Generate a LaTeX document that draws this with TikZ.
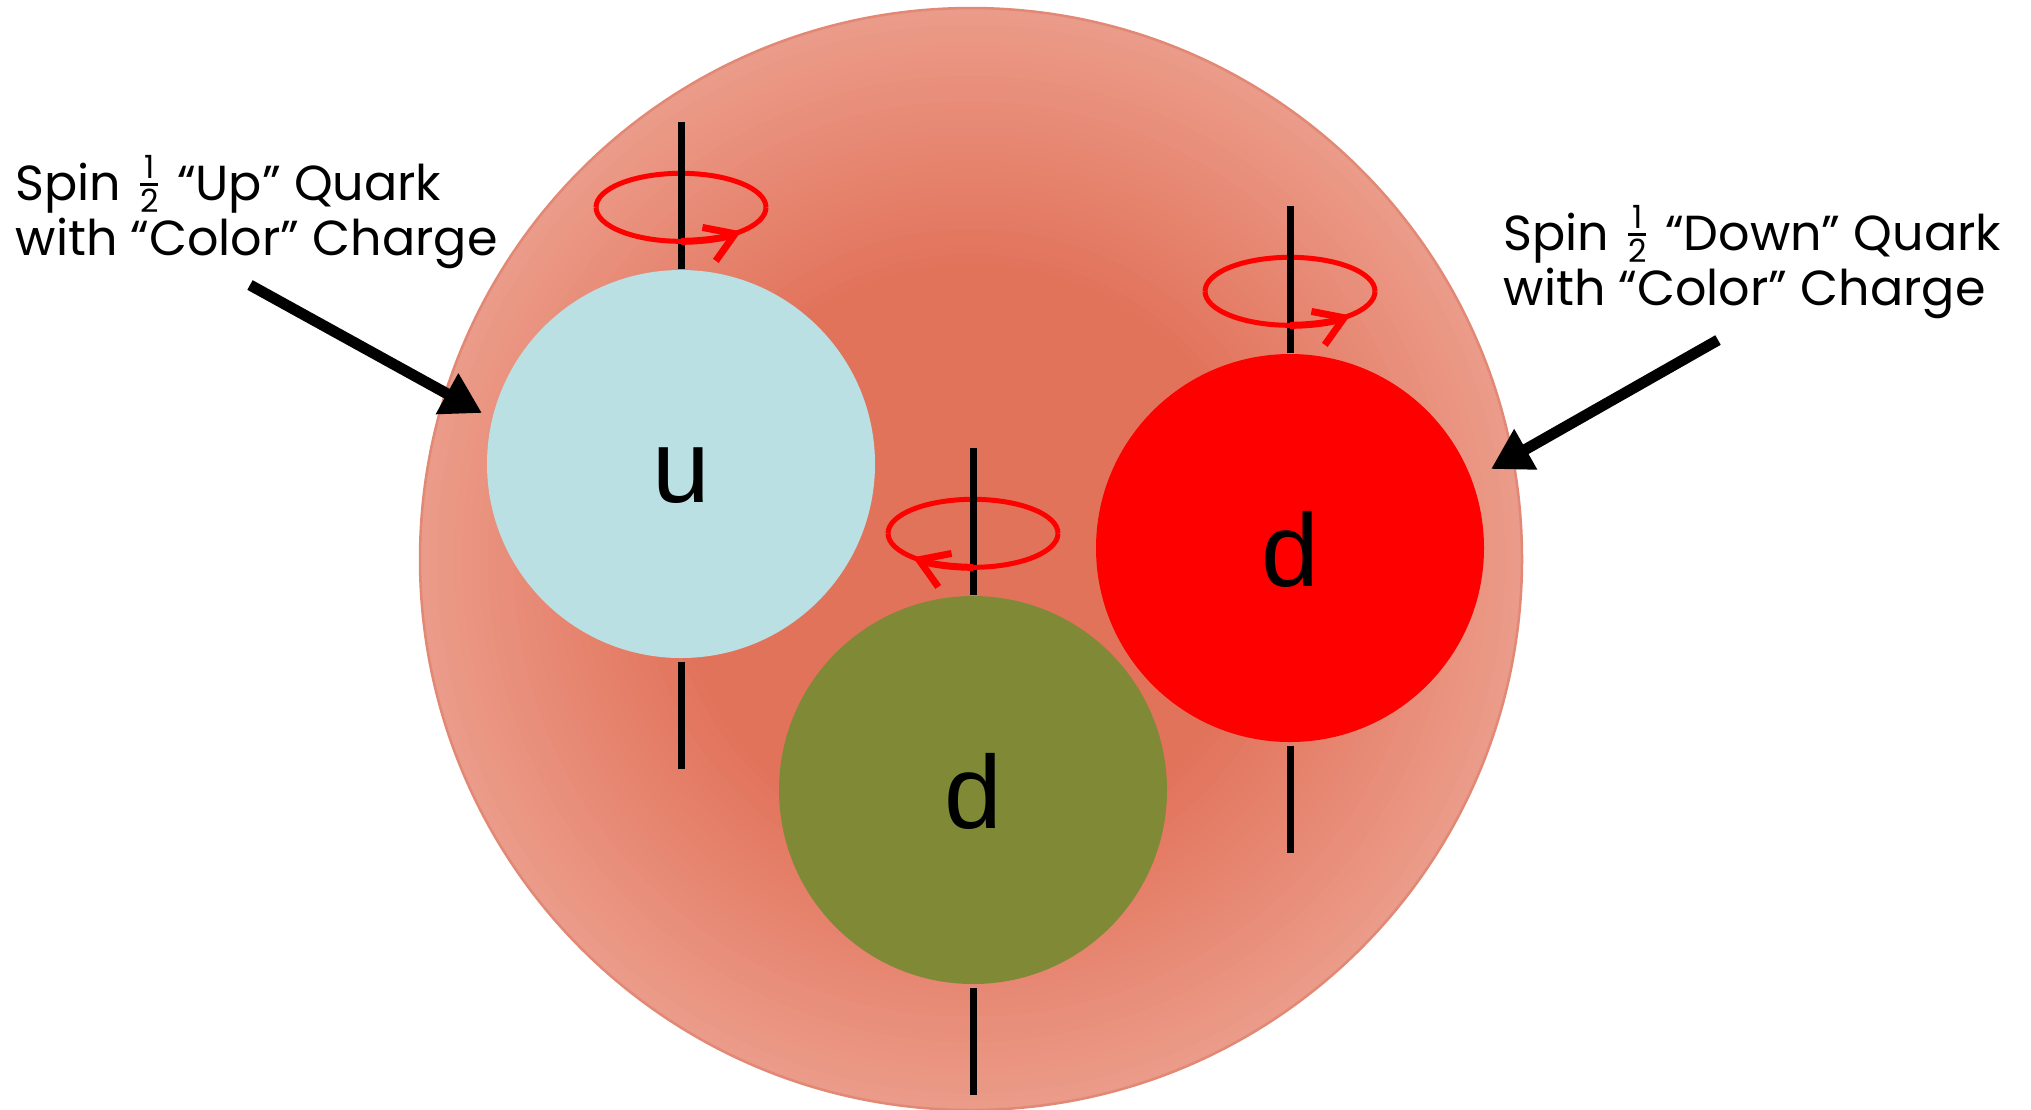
\documentclass[tikz,border=0pt]{standalone}
\usepackage{amsmath}
\usepackage{graphicx}
\usepackage{fontspec}
\setmainfont{Liberation Sans}
\newfontfamily\notefont{Poppins}
\usetikzlibrary{positioning,calc,arrows.meta}

\definecolor{protoncore}{RGB}{226,115,91}
\definecolor{protonrim}{RGB}{235,155,137}
\definecolor{protonedge}{RGB}{226,136,116}
\definecolor{upblue}{RGB}{186,224,227}
\definecolor{downgreen}{RGB}{128,137,53}
\definecolor{downred}{RGB}{255,0,0}
\definecolor{spinred}{RGB}{255,0,0}

\tikzset{
  proton/.style={circle, minimum size=110.2mm, inner sep=0pt,
    draw=protonedge, line width=0.25mm},
  quark/.style={circle, minimum size=38.8mm, inner sep=0pt, text height=7.6mm,
    text depth=0pt, font=\fontsize{29.5}{34}\selectfont},
  spinaxis/.style={line width=0.7mm, black},
  ring/.style={line width=0.5mm, spinred},
  twist/.style={line width=0.7mm, spinred, -{Straight Barb[length=2.8mm,width=3.6mm]}},
  note/.style={anchor=base west, align=left, inner sep=0pt,
    font=\notefont\fontsize{14}{15.6}\selectfont},
  pointer/.style={line width=1.1mm, -{Triangle[length=4mm,width=4.4mm]}}
}

% small stacked 1/2 sitting on the baseline
\newcommand{\halfspin}{\smash{\raisebox{0.08em}{\scalebox{1.3}{$\genfrac{}{}{0.6pt}{2}{\text{1}}{\text{2}}$}}}}

\begin{document}
\begin{tikzpicture}[x=0.1mm,y=-0.1mm]
\fill[white] (0,0) rectangle (2031,1109);
\useasboundingbox (0,0) rectangle (2031,1109);

% proton, lighter towards the rim
\coordinate (pc) at (971,559);
\foreach \k in {0,...,30}{
  \pgfmathsetmacro\mix{\k*100/30}
  \fill[protoncore!\mix!protonrim] (pc) circle[radius=551-\k*8.5];
}
\node[proton] (proton) at (pc) {};

% quarks
\node[quark, fill=upblue] (up) at (681,464) {u};
\node[quark, fill=downgreen] (dgreen) at (973,790) {d};
\node[quark, fill=downred] (dred) at (1290,548) {d};

% spin axis and loop, back half behind the axis
\foreach \q/\s in {up/1,dgreen/-1,dred/1}{
  \coordinate (\q-spin) at ($(\q.north)+(0,-62)$);
  \draw[ring] ($(\q-spin)+(-85,0)$) arc[start angle=180,end angle=360,x radius=85,y radius=34];
  \draw[spinaxis] (\q.north) -- ++(0,-147);
  \draw[spinaxis] ($(\q.south)+(0,3)$) -- ++(0,107);
  \draw[ring] ($(\q-spin)+(85,0)$) arc[start angle=0,end angle=180,x radius=85,y radius=34];
  \draw[twist] ($(\q-spin)+(0,34)$) arc[start angle=90,end angle=90-45*\s,x radius=85,y radius=34];
}

% labels
\node[note] (upnote) at (15,255) {Spin \halfspin{} “Up” Quark\\with “Color” Charge};
\node[note] (downnote) at (1503,305) {Spin \halfspin{} “Down” Quark\\with “Color” Charge};

\coordinate (uptail) at (250,285);
\coordinate (uptip) at (482,413);
\coordinate (downtail) at (1718,340);
\coordinate (downtip) at (1491,469);
\draw[pointer] (uptail) -- (uptip);
\draw[pointer] (downtail) -- (downtip);
\end{tikzpicture}
\end{document}
